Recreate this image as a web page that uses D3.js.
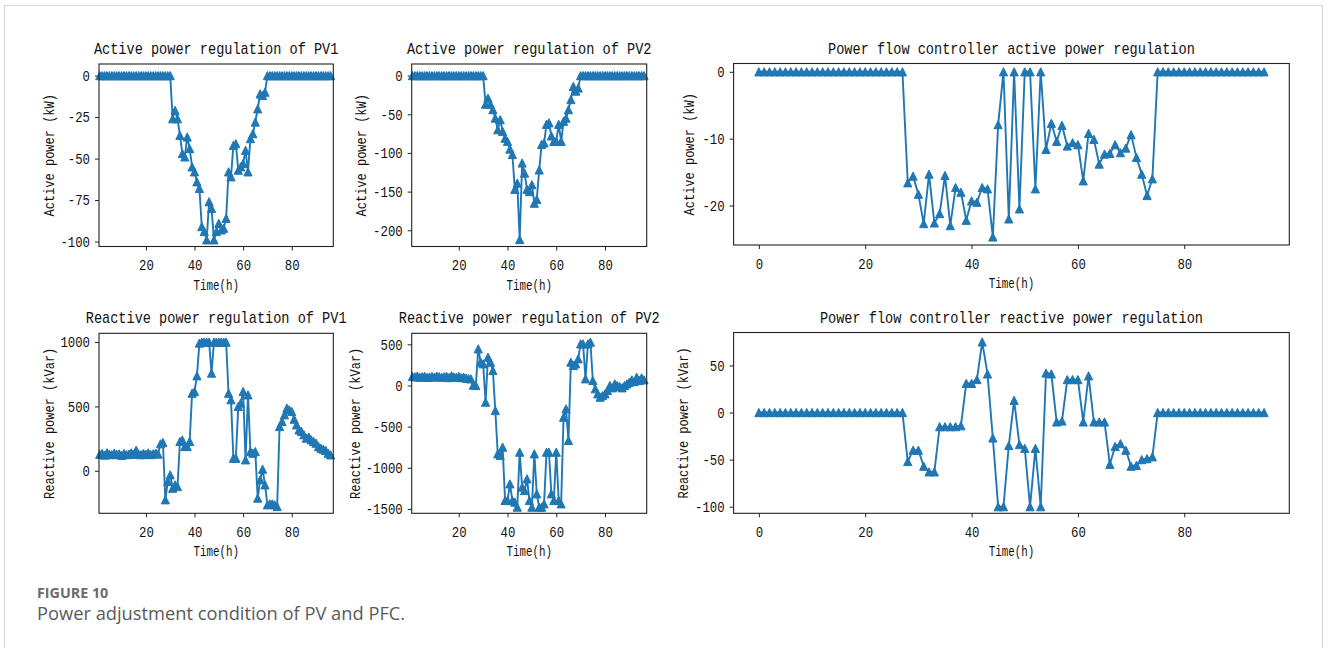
<!DOCTYPE html>
<html lang="en">
<head>
  <meta charset="UTF-8">
  <title>Figure 10: Power adjustment condition of PV and PFC</title>
  <style>
    body { margin: 0; background: #fff; }
    svg { display: block; }
  </style>
</head>
<body>
  <svg id="svg" width="1328" height="648"></svg>

  <script src="https://d3js.org/d3.v7.min.js"></script>
  <script>
    // time axes: PV panels run 1..96, PFC panels run 0..95
    const hoursPV = d3.range(1, 97)
    const hoursPFC = d3.range(0, 96)

    const pv1Active = [
      0, 0, 0, 0, 0, 0, 0, 0, 0, 0, 0, 0, 0, 0, 0, 0, 0, 0, 0, 0, 0, 0, 0, 0, 0, 0, 0, 0, 0, 0,
      -26, -21, -26, -36, -47, -49, -37, -44, -55, -58, -64, -68, -91, -94, -99, -76, -80, -99, -94, -89,
      -93, -92, -86, -58, -61, -42, -41, -57, -55, -53, -45, -58, -38, -35, -28, -20, -11, -12, -10,
      0, 0, 0, 0, 0, 0, 0, 0, 0, 0, 0, 0, 0, 0, 0, 0, 0, 0, 0, 0, 0, 0, 0, 0, 0, 0, 0
    ]
    const pv2Active = [
      0, 0, 0, 0, 0, 0, 0, 0, 0, 0, 0, 0, 0, 0, 0, 0, 0, 0, 0, 0, 0, 0, 0, 0, 0, 0, 0, 0, 0, 0,
      -37, -29, -37, -44, -55, -70, -57, -72, -81, -85, -95, -102, -147, -139, -212, -113, -126, -147, -150, -141,
      -165, -160, -122, -89, -87, -63, -61, -78, -85, -85, -63, -85, -59, -55, -44, -31, -14, -20, -16,
      0, 0, 0, 0, 0, 0, 0, 0, 0, 0, 0, 0, 0, 0, 0, 0, 0, 0, 0, 0, 0, 0, 0, 0, 0, 0, 0
    ]
    const pfcActive = [
      0, 0, 0, 0, 0, 0, 0, 0, 0, 0, 0, 0, 0, 0, 0, 0, 0, 0, 0, 0, 0, 0, 0, 0, 0, 0, 0, 0,
      -16.6, -15.6, -18.3, -22.7, -15.3, -22.6, -21.2, -15.5, -23, -17.3, -18, -22.2, -19.3, -19.5, -17.3, -17.5,
      -24.7, -7.9, 0, -22, 0, -20.5, 0, 0, -17.5, 0, -11.6, -7.7, -10.4, -8, -11.1, -10.6, -10.9, -16.3,
      -9.2, -10.1, -13.8, -12.3, -12.2, -10.9, -12.1, -11.4, -9.4, -12.8, -15.3, -18.5, -16,
      0, 0, 0, 0, 0, 0, 0, 0, 0, 0, 0, 0, 0, 0, 0, 0, 0, 0, 0, 0, 0
    ]
    const pv1Reactive = [
      128, 135, 122, 140, 130, 125, 138, 128, 132, 120, 135, 126, 130, 140, 128, 160, 130, 125, 135, 128,
      140, 126, 132, 138, 130,
      210, 220, -225, -83, -31, -135, -109, -122, 228, 240, 189, 189, 228, 603, 616, 738, 992,
      1000, 1000, 1000, 1000, 759, 1000, 1000, 1000, 1000, 1000, 1000, 603, 552, 98, 98, 500, 526, 616,
      85, 590, 150, 137, 150, -212, -70, 13, -109, -264, -256, -256, -264, -277,
      344, 383, 435, 487, 474, 461, 401, 357, 318, 306, 280, 254, 262, 241, 228, 215, 189, 176, 168,
      158, 137, 124
    ]
    const pv2Reactive = [
      110, 105, 115, 100, 108, 112, 98, 104, 110, 102, 115, 108, 100, 106, 112, 96, 118, 104, 100, 110,
      95, 102, 90, 85, 80,
      5, 0, 445, 283, 263, -202, 344, 283, 182, -304, -830, -850, -749, -1397, -1397, -1195, -1397,
      -1417, -1478, -810, -1235, -1276, -1134, -1397, -1478, -830, -1316, -1478, -1478, -1438, -810,
      -810, -1316, -1397, -810, -1397, -1438, -385, -283, -668, 283, 243, 263, 324, 506, 506, 81, 506,
      527, 61, -40, -101, -142, -122, -101, -61, 0, -28, 20, 0, -12, -28, 0, 20, 40, 69, 49, 101, 61,
      93, 69
    ]
    const pfcReactive = [
      0, 0, 0, 0, 0, 0, 0, 0, 0, 0, 0, 0, 0, 0, 0, 0, 0, 0, 0, 0, 0, 0, 0, 0, 0, 0, 0, 0,
      -52, -40, -40, -57, -63, -63, -15, -15, -15, -15, -14, 31, 31, 35, 75, 41, -27, -100, -100,
      -35, 13, -34, -38, -100, -38, -100, 42, 41, -10, -9, 35, 35, 35, -10, 39, -10, -10, -10,
      -55, -36, -33, -40, -57, -56, -50, -49, -47,
      0, 0, 0, 0, 0, 0, 0, 0, 0, 0, 0, 0, 0, 0, 0, 0, 0, 0, 0, 0, 0
    ]

    const titles = [
      'Active power regulation of PV1',
      'Active power regulation of PV2',
      'Power flow controller active power regulation',
      'Reactive power regulation of PV1',
      'Reactive power regulation of PV2',
      'Power flow controller reactive power regulation'
    ]
    const yLabels = [
      'Active power (kW)', 'Active power (kW)', 'Active power (kW)',
      'Reactive power (kVar)', 'Reactive power (kVar)', 'Reactive power (kVar)'
    ]
    const xLabel = 'Time(h)'
    const xTicksPV = [20, 40, 60, 80]
    const xTicksPFC = [0, 20, 40, 60, 80]
    const yTicks = [
      [0, -25, -50, -75, -100],
      [0, -50, -100, -150, -200],
      [0, -10, -20],
      [0, 500, 1000],
      [500, 0, -500, -1000, -1500],
      [50, 0, -50, -100]
    ]

    const panels = [
      { x: hoursPV, y: pv1Active, box: [99, 333.3, 64, 246.5], xd: [0.7, 97.1], yd: [-103, 7], ylx: 49 },
      { x: hoursPV, y: pv2Active, box: [411.7, 646.7, 64, 246.5], xd: [0.7, 97.1], yd: [-221, 15], ylx: 361 },
      { x: hoursPFC, y: pfcActive, box: [733.6, 1289.3, 63.5, 245], xd: [-4.75, 99.75], yd: [-25.9, 1.24], ylx: 689 },
      { x: hoursPV, y: pv1Reactive, box: [99, 333.3, 333.3, 513.3], xd: [0.7, 97.1], yd: [-330, 1068], ylx: 49 },
      { x: hoursPV, y: pv2Reactive, box: [411.7, 646.7, 333.3, 513.3], xd: [0.7, 97.1], yd: [-1553, 634], ylx: 355 },
      { x: hoursPFC, y: pfcReactive, box: [733.6, 1289.3, 332.5, 513.3], xd: [-4.75, 99.75], yd: [-107, 85], ylx: 683 }
    ]

    const blue = '#1f77b4'
    const mono = '"Liberation Mono", "DejaVu Sans Mono", monospace'

    // tall, narrow mono text (mimics the half-width gothic face of the original)
    function squeeze(sel, size, charW) {
      sel.attr('font-family', mono)
        .attr('font-size', size)
        .attr('lengthAdjust', 'spacingAndGlyphs')
        .attr('textLength', function () { return this.textContent.length * charW })
    }

    const svg = d3.select('#svg')

    // light frame round the figure
    svg.append('rect')
      .attr('x', 4.5).attr('y', 5.5)
      .attr('width', 1318).attr('height', 700)
      .attr('fill', 'none')
      .attr('stroke', '#d6d6d6')

    panels.forEach((p, i) => {
      const [l, r, t, b] = p.box
      const xScale = d3.scaleLinear().domain(p.xd).range([l, r])
      const yScale = d3.scaleLinear().domain(p.yd).range([b, t])
      const g = svg.append('g')

      const xAxis = g.append('g')
        .attr('transform', `translate(0,${b})`)
        .call(d3.axisBottom(xScale)
          .tickValues(p.x === hoursPV ? xTicksPV : xTicksPFC)
          .tickFormat(d3.format('d'))
          .tickSize(4).tickPadding(9))
      const yAxis = g.append('g')
        .attr('transform', `translate(${l},0)`)
        .call(d3.axisLeft(yScale)
          .tickValues(yTicks[i])
          .tickFormat(d => d3.format('d')(d).replace('−', '-'))
          .tickSize(4).tickPadding(5))

      ;[xAxis, yAxis].forEach(a => {
        a.select('.domain').remove()
        a.selectAll('line').attr('stroke', '#222')
        a.selectAll('text').attr('fill', '#111').call(squeeze, 15, 7.4)
      })

      // series line and triangle markers
      const pts = p.x.map((h, k) => [xScale(h), yScale(p.y[k])])
      g.append('path')
        .attr('d', d3.line()(pts))
        .attr('fill', 'none')
        .attr('stroke', blue)
        .attr('stroke-width', 1.9)
        .attr('stroke-linejoin', 'round')

      const s = 4.1
      g.selectAll('path.mk')
        .data(pts)
        .enter()
        .append('path')
        .attr('class', 'mk')
        .attr('d', d => `M${d[0]},${d[1] - s}L${d[0] - s},${d[1] + s}L${d[0] + s},${d[1] + s}Z`)
        .attr('fill', blue)
        .attr('stroke', blue)
        .attr('stroke-width', 1)

      // spines
      g.append('rect')
        .attr('x', l).attr('y', t)
        .attr('width', r - l).attr('height', b - t)
        .attr('fill', 'none')
        .attr('stroke', '#222')
        .attr('stroke-width', 1.1)

      g.append('text')
        .attr('x', (l + r) / 2).attr('y', t - 10)
        .attr('text-anchor', 'middle')
        .attr('fill', '#111')
        .text(titles[i])
        .call(squeeze, 17, 8.15)

      g.append('text')
        .attr('x', (l + r) / 2).attr('y', b + 43)
        .attr('text-anchor', 'middle')
        .attr('fill', '#111')
        .text(xLabel)
        .call(squeeze, 14, 6.5)

      g.append('text')
        .attr('transform', `translate(${p.ylx + 4.5},${(t + b) / 2}) rotate(-90)`)
        .attr('text-anchor', 'middle')
        .attr('fill', '#111')
        .text(yLabels[i])
        .call(squeeze, 14, 7.2)
    })

    // caption
    svg.append('text')
      .attr('x', 37).attr('y', 598)
      .attr('font-family', '"Open Sans", sans-serif')
      .attr('font-size', 14.3)
      .attr('font-weight', 700)
      .attr('fill', '#6b6b6b')
      .text('FIGURE 10')
    svg.append('text')
      .attr('x', 37).attr('y', 620)
      .attr('font-family', '"Open Sans", sans-serif')
      .attr('font-size', 18.3)
      .attr('fill', '#5a5a5a')
      .text('Power adjustment condition of PV and PFC.')
  </script>
</body>
</html>
